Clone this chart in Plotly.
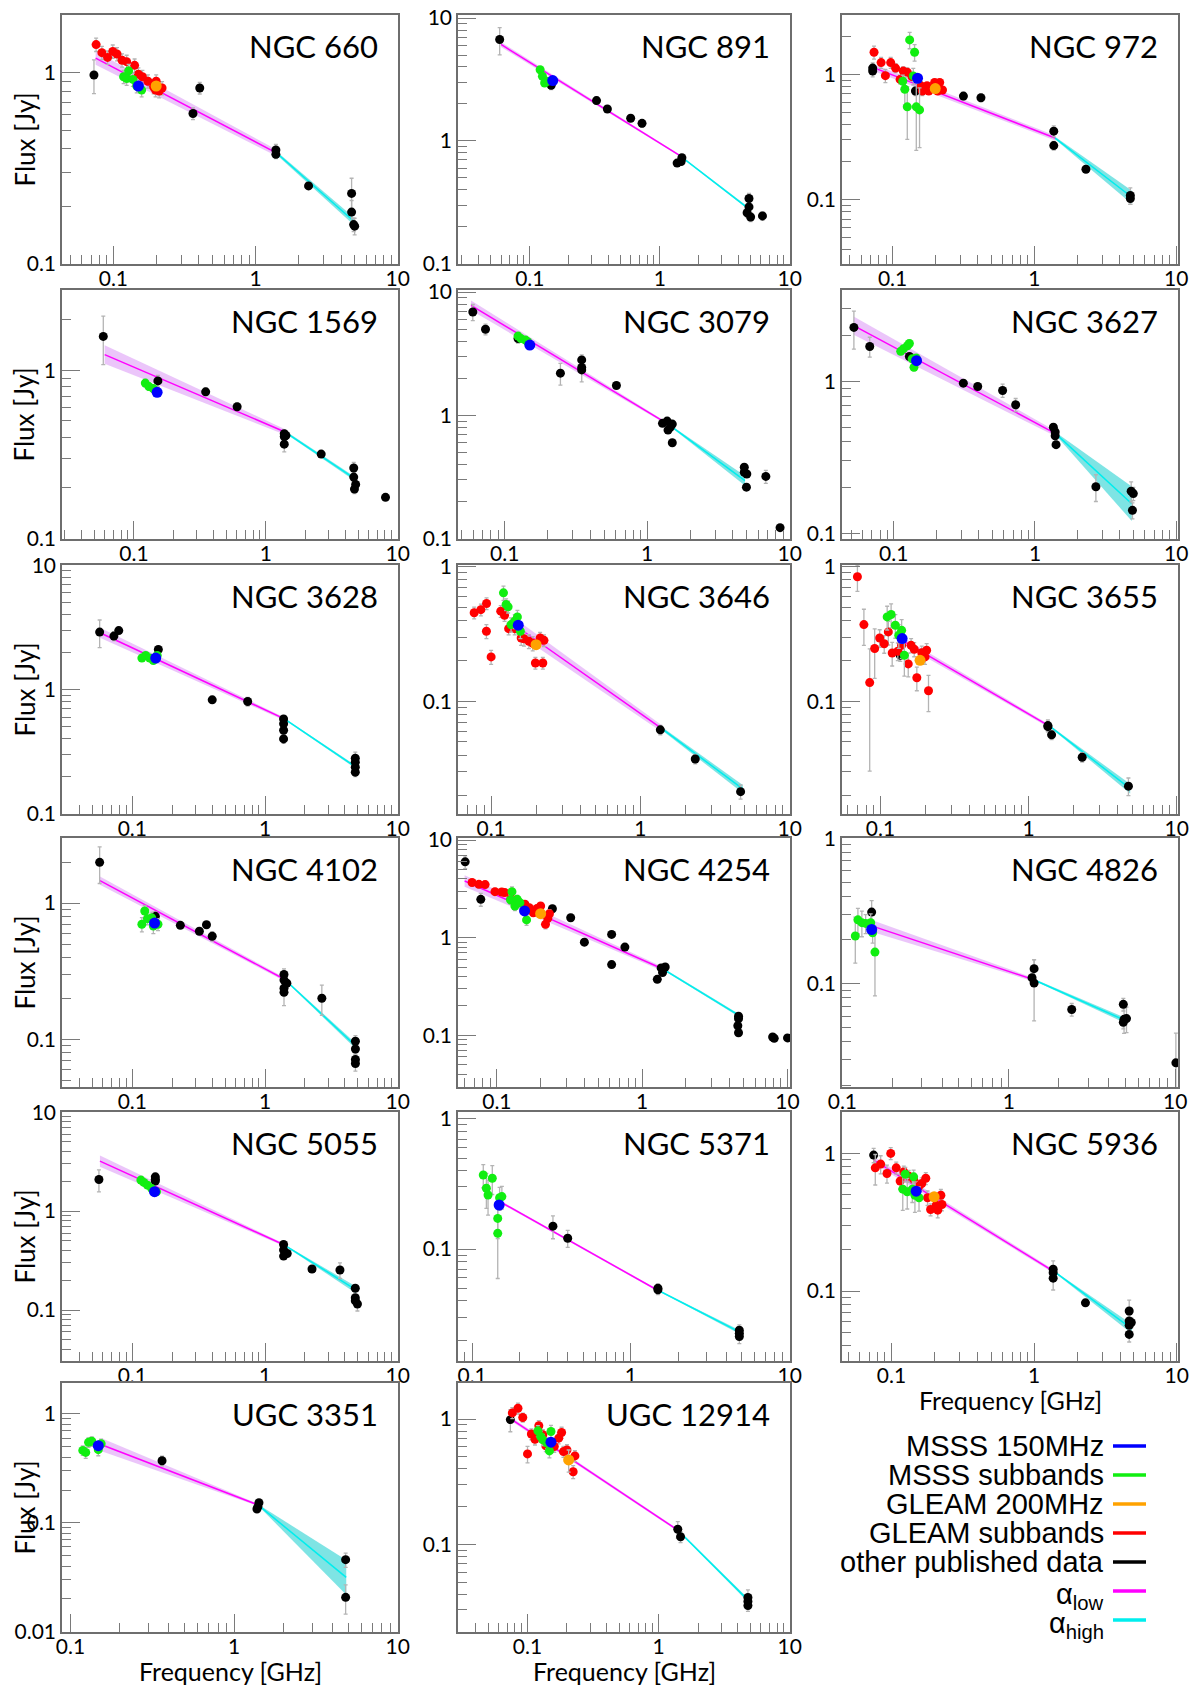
import math
import plotly.graph_objects as go

# ---------------- data: (frequency GHz, flux Jy, relative error) ----------------
# NGC 660
N660_other = [(0.073,0.97,0.2),(0.363,0.61,0.07),(0.405,0.83,0.07),(1.39,0.393,0.07),(1.39,0.373,0.05),
              (2.36,0.255,0.04),(4.74,0.233,0.2),(4.74,0.186,0.15),(4.9,0.16,0.08),(4.98,0.157,0.1)]
N660_gleam_sub = [(0.0756,1.40,0.08),(0.083,1.27,0.08),(0.091,1.20,0.08),(0.099,1.29,0.08),(0.106,1.25,0.08),
                  (0.115,1.16,0.08),(0.124,1.14,0.08),(0.141,1.09,0.08),(0.150,0.98,0.08),(0.16,0.95,0.08),
                  (0.175,0.90,0.08),(0.192,0.84,0.08),(0.2,0.90,0.08),(0.198,0.81,0.08),(0.21,0.80,0.08),(0.22,0.83,0.08)]
N660_msss_sub = [(0.128,1.02,0.08),(0.118,0.95,0.08),(0.124,0.93,0.08),(0.137,0.92,0.08),(0.146,0.85,0.08),(0.158,0.81,0.08)]
N660_msss150 = [(0.15,0.85,0.05)]
N660_gleam200 = [(0.2,0.85,0.05)]
N660_fit = [0.075, 1.19, 0.38, 0.168]          # start freq, flux at start, flux at 1.4 GHz, flux at 4.85 GHz
N660_band = [0.035, 0.017, 0.02]               # half-width (dex) at start, 1.4 GHz, 4.85 GHz

# NGC 891
N891_other = [(0.0586,6.7,0.25),(0.146,2.84,0.08),(0.326,2.13,0.07),(0.395,1.82,0.05),(0.597,1.53,0.05),
              (0.73,1.39,0.07),(1.36,0.66,0.05),(1.48,0.73,0.05),(1.46,0.68,0.05),(4.86,0.34,0.1),
              (4.86,0.29,0.08),(4.7,0.26,0.08),(5.0,0.24,0.08),(6.17,0.245,0.08)]
N891_gleam_sub = []
N891_msss_sub = [(0.12,3.8,0.05),(0.125,3.36,0.05),(0.137,3.06,0.05),(0.13,2.96,0.05)]
N891_msss150 = [(0.15,3.1,0.05)]
N891_gleam200 = []
N891_fit = [0.06, 6.1, 0.77, 0.28]
N891_band = [0.02, 0.008, 0.01]

# NGC 972
N972_other = [(0.0724,1.12,0.1),(0.0724,1.06,0.1),(0.145,0.736,0.08),(0.316,0.67,0.07),(0.42,0.65,0.07),
              (1.37,0.352,0.1),(1.37,0.27,0.08),(2.31,0.175,0.05),(4.75,0.108,0.15),(4.75,0.102,0.1)]
N972_gleam_sub = [(0.074,1.5,0.12),(0.083,1.24,0.1),(0.089,0.975,0.12),(0.097,1.24,0.1),(0.105,1.12,0.08),
                  (0.119,1.06,0.08),(0.127,1.04,0.08),(0.113,0.91,0.08),(0.137,0.96,0.08),(0.158,0.81,0.08),
                  (0.17,0.77,0.08),(0.162,0.736,0.08),(0.18,0.736,0.06),(0.198,0.86,0.06),(0.215,0.86,0.06),
                  (0.225,0.75,0.06),(0.208,0.736,0.06),(0.175,0.81,0.06)]
N972_msss_sub = [(0.132,1.88,0.15),(0.143,1.5,0.15),(0.14,0.97,0.15),(0.118,0.88,0.12),(0.122,0.76,0.25),
                 (0.127,0.55,0.45),(0.147,0.55,0.55),(0.155,0.52,0.5)]
N972_msss150 = [(0.15,0.93,0.05)]
N972_gleam200 = [(0.2,0.77,0.05)]
N972_fit = [0.075, 1.12, 0.31, 0.105]
N972_band = [0.027, 0.02, 0.053]

# NGC 1569
N1569_other = [(0.0586,1.59,0.32),(0.152,0.865,0.08),(0.35,0.745,0.05),(0.606,0.607,0.05),(1.38,0.42,0.05),
               (1.38,0.404,0.05),(1.42,0.41,0.05),(1.38,0.364,0.1),(2.63,0.318,0.04),(4.64,0.263,0.08),
               (4.64,0.232,0.06),(4.8,0.21,0.06),(4.7,0.197,0.06),(8.08,0.176,0.04)]
N1569_gleam_sub = []
N1569_msss_sub = [(0.122,0.84,0.05),(0.13,0.80,0.05),(0.14,0.78,0.05),(0.149,0.745,0.05)]
N1569_msss150 = [(0.15,0.74,0.05)]
N1569_gleam200 = []
N1569_fit = [0.06, 1.24, 0.43, 0.224]
N1569_band = [0.055, 0.016, 0.012]

# NGC 3079
N3079_other = [(0.0597,6.9,0.15),(0.0733,5.0,0.1),(0.124,4.2,0.08),(0.246,2.2,0.2),(0.347,2.82,0.1),
               (0.347,2.45,0.1),(0.347,2.34,0.2),(0.608,1.75,0.05),(1.28,0.862,0.05),(1.38,0.90,0.05),
               (1.45,0.80,0.05),(1.5,0.85,0.05),(1.4,0.76,0.05),(1.5,0.60,0.05),(4.8,0.38,0.06),
               (4.8,0.346,0.06),(5.0,0.335,0.06),(4.97,0.262,0.06),(6.8,0.32,0.12),(8.56,0.123,0.05)]
N3079_gleam_sub = []
N3079_msss_sub = [(0.124,4.4,0.05),(0.13,4.2,0.05),(0.14,4.08,0.05),(0.145,3.96,0.05)]
N3079_msss150 = [(0.15,3.72,0.05)]
N3079_gleam200 = []
N3079_fit = [0.058, 7.8, 0.85, 0.296]
N3079_band = [0.04, 0.01, 0.04]

# NGC 3627
N3627_other = [(0.0522,2.27,0.28),(0.0676,1.70,0.15),(0.129,1.46,0.05),(0.311,0.975,0.05),(0.393,0.927,0.05),
               (0.59,0.873,0.1),(0.73,0.703,0.1),(1.35,0.50,0.05),(1.39,0.465,0.05),(1.39,0.44,0.05),
               (1.41,0.384,0.05),(2.7,0.203,0.2),(4.8,0.19,0.15),(4.97,0.183,0.1),(4.9,0.142,0.12)]
N3627_gleam_sub = []
N3627_msss_sub = [(0.112,1.58,0.05),(0.117,1.64,0.05),(0.125,1.72,0.05),(0.129,1.78,0.05),(0.135,1.41,0.05),
                  (0.144,1.43,0.05),(0.139,1.24,0.05)]
N3627_msss150 = [(0.145,1.37,0.05)]
N3627_gleam200 = []
N3627_fit = [0.052, 2.33, 0.454, 0.157]
N3627_band = [0.06, 0.018, 0.114]

# NGC 3628
N3628_other = [(0.0567,2.9,0.25),(0.0726,2.69,0.08),(0.079,2.98,0.05),(0.157,2.1,0.05),(0.4,0.826,0.04),
               (0.74,0.80,0.08),(1.38,0.58,0.04),(1.38,0.53,0.04),(1.38,0.47,0.04),(1.38,0.40,0.08),
               (4.79,0.28,0.12),(4.79,0.26,0.06),(4.79,0.237,0.06),(4.79,0.216,0.08)]
N3628_gleam_sub = []
N3628_msss_sub = [(0.118,1.79,0.05),(0.126,1.88,0.05),(0.135,1.79,0.05),(0.144,1.71,0.05),(0.154,1.88,0.05)]
N3628_msss150 = [(0.15,1.79,0.05)]
N3628_gleam200 = []
N3628_fit = [0.057, 2.86, 0.58, 0.237]
N3628_band = [0.04, 0.012, 0.012]

# NGC 3646
N3646_other = [(1.36,0.0615,0.08),(2.33,0.0374,0.08),(4.69,0.0214,0.12)]
N3646_gleam_sub = [(0.077,0.455,0.1),(0.0854,0.48,0.1),(0.0932,0.533,0.1),(0.093,0.332,0.12),(0.1,0.214,0.12),
                   (0.116,0.468,0.1),(0.123,0.436,0.1),(0.131,0.347,0.1),(0.144,0.347,0.1),(0.159,0.296,0.12),
                   (0.166,0.292,0.12),(0.179,0.28,0.12),(0.19,0.27,0.12),(0.213,0.296,0.1),(0.226,0.284,0.1),
                   (0.198,0.193,0.1),(0.222,0.193,0.1)]
N3646_msss_sub = [(0.121,0.64,0.12),(0.126,0.524,0.1),(0.13,0.504,0.1),(0.136,0.372,0.12),(0.144,0.394,0.12),
                  (0.15,0.424,0.12),(0.157,0.332,0.12)]
N3646_msss150 = [(0.152,0.368,0.05)]
N3646_gleam200 = [(0.2,0.264,0.06)]
N3646_fit = [0.15, 0.357, 0.0626, 0.0224]
N3646_band = [0.05, 0.025, 0.03]

# NGC 3655
N3655_other = [(0.136,0.22,0.1),(1.35,0.0662,0.1),(1.35,0.065,0.08),(1.43,0.0565,0.08),(2.3,0.0385,0.08),(4.72,0.0235,0.15)]
N3655_gleam_sub = [(0.0699,0.842,0.22),(0.0773,0.372,0.3),(0.0846,0.138,0.78),(0.0914,0.247,0.4),(0.0988,0.296,0.15),
                   (0.106,0.268,0.15),(0.113,0.328,0.2),(0.12,0.229,0.2),(0.131,0.236,0.15),(0.139,0.261,0.2),
                   (0.154,0.19,0.2),(0.161,0.261,0.12),(0.169,0.244,0.12),(0.176,0.15,0.2),(0.19,0.23,0.12),
                   (0.205,0.24,0.12),(0.211,0.12,0.3),(0.2,0.214,0.12)]
N3655_msss_sub = [(0.111,0.424,0.2),(0.118,0.442,0.2),(0.126,0.368,0.2),(0.139,0.337,0.2),(0.133,0.31,0.2),(0.145,0.22,0.3)]
N3655_msss150 = [(0.14,0.293,0.05)]
N3655_gleam200 = [(0.185,0.202,0.06)]
N3655_fit = [0.14, 0.284, 0.065, 0.0225]
N3655_band = [0.025, 0.012, 0.035]

# NGC 4102
N4102_other = [(0.0567,1.99,0.3),(0.149,0.80,0.08),(0.23,0.688,0.05),(0.32,0.622,0.05),(0.362,0.695,0.05),
               (0.4,0.572,0.08),(1.39,0.30,0.1),(1.39,0.273,0.05),(1.46,0.259,0.05),(1.39,0.238,0.05),
               (1.39,0.222,0.2),(2.68,0.201,0.25),(4.8,0.0973,0.1),(4.8,0.0854,0.08),(4.8,0.0716,0.08),(4.8,0.0669,0.12)]
N4102_gleam_sub = []
N4102_msss_sub = [(0.118,0.70,0.12),(0.124,0.875,0.1),(0.13,0.77,0.1),(0.14,0.78,0.1),(0.144,0.68,0.12),(0.156,0.70,0.1)]
N4102_msss150 = [(0.147,0.715,0.05)]
N4102_gleam200 = []
N4102_fit = [0.057, 1.46, 0.277, 0.0895]
N4102_band = [0.03, 0.012, 0.02]

# NGC 4254
N4254_other = [(0.0605,5.98,0.15),(0.0775,2.47,0.15),(0.241,1.98,0.08),(0.322,1.6,0.08),(0.4,0.9,0.08),
               (0.616,1.08,0.05),(0.616,0.53,0.05),(0.76,0.80,0.05),(1.27,0.374,0.05),(1.35,0.49,0.05),
               (1.44,0.50,0.05),(1.38,0.44,0.05),(4.6,0.157,0.06),(4.6,0.148,0.06),(4.55,0.125,0.08),
               (4.6,0.106,0.08),(7.9,0.096,0.05),(8.1,0.093,0.05),(10.0,0.094,0.05)]
N4254_gleam_sub = [(0.0675,3.67,0.08),(0.0752,3.52,0.08),(0.083,3.5,0.08),(0.097,2.96,0.08),(0.108,2.94,0.08),
                   (0.113,2.9,0.08),(0.125,2.53,0.08),(0.14,2.28,0.08),(0.156,2.2,0.08),(0.167,2.03,0.08),
                   (0.178,1.8,0.08),(0.189,1.99,0.08),(0.2,2.11,0.08),(0.216,1.37,0.1),(0.224,1.58,0.1),(0.23,1.76,0.1)]
N4254_msss_sub = [(0.127,2.96,0.12),(0.124,2.44,0.1),(0.138,2.47,0.1),(0.133,2.11,0.1),(0.144,2.28,0.1),(0.16,1.52,0.12)]
N4254_msss150 = [(0.155,1.88,0.05)]
N4254_gleam200 = [(0.2,1.76,0.05)]
N4254_fit = [0.06, 3.81, 0.474, 0.153]
N4254_band = [0.058, 0.02, 0.014]

# NGC 4826
N4826_other = [(0.15,0.311,0.2),(1.42,0.127,0.15),(1.38,0.11,0.1),(1.42,0.101,0.45),(2.39,0.0665,0.1),
               (4.88,0.0722,0.1),(4.93,0.0569,0.2),(5.1,0.0576,0.2),(4.88,0.0543,0.1),(10.1,0.0286,0.6)]
N4826_gleam_sub = []
N4826_msss_sub = [(0.1196,0.213,0.35),(0.124,0.275,0.2),(0.131,0.263,0.2),(0.138,0.26,0.15),(0.148,0.263,0.15),
                  (0.152,0.224,0.15),(0.157,0.165,0.5)]
N4826_msss150 = [(0.15,0.236,0.05)]
N4826_gleam200 = []
N4826_fit = [0.15, 0.25, 0.107, 0.0569]
N4826_band = [0.04, 0.012, 0.018]

# NGC 5055
N5055_other = [(0.056,2.09,0.25),(0.149,2.22,0.05),(0.149,2.1,0.05),(0.149,2.01,0.05),(1.38,0.46,0.05),
               (1.38,0.404,0.05),(1.38,0.351,0.05),(1.47,0.373,0.05),(2.26,0.26,0.05),(3.67,0.254,0.18),
               (4.79,0.166,0.06),(4.79,0.133,0.06),(4.79,0.124,0.06),(4.97,0.115,0.15)]
N5055_gleam_sub = []
N5055_msss_sub = [(0.116,2.06,0.05),(0.122,1.95,0.05),(0.13,1.83,0.05),(0.14,1.69,0.05),(0.152,1.57,0.05)]
N5055_msss150 = [(0.147,1.57,0.05)]
N5055_gleam200 = []
N5055_fit = [0.057, 3.2, 0.454, 0.16]
N5055_band = [0.057, 0.013, 0.034]

# NGC 5371
N5371_other = [(0.323,0.15,0.2),(0.4,0.121,0.15),(1.48,0.05,0.08),(1.48,0.0486,0.08),(4.82,0.0238,0.1),
               (4.82,0.0225,0.1),(4.82,0.0213,0.12)]
N5371_gleam_sub = []
N5371_msss_sub = [(0.1176,0.371,0.2),(0.123,0.293,0.3),(0.126,0.26,0.3),(0.134,0.35,0.25),(0.145,0.132,0.55),
                  (0.145,0.172,0.3),(0.149,0.248,0.2),(0.154,0.253,0.2)]
N5371_msss150 = [(0.148,0.218,0.05)]
N5371_gleam200 = []
N5371_fit = [0.15, 0.231, 0.05, 0.023]
N5371_band = [0.01, 0.008, 0.015]

# NGC 5936
N5936_other = [(0.075,0.972,0.12),(1.36,0.144,0.15),(1.36,0.136,0.1),(1.36,0.124,0.18),(2.29,0.082,0.05),
               (4.64,0.0716,0.2),(4.64,0.0605,0.1),(4.8,0.059,0.08),(4.64,0.0563,0.08),(4.64,0.0484,0.12)]
N5936_gleam_sub = [(0.077,0.786,0.25),(0.084,0.836,0.15),(0.093,0.715,0.15),(0.0988,1.0,0.1),(0.108,0.786,0.1),
                   (0.115,0.629,0.12),(0.122,0.735,0.1),(0.132,0.684,0.1),(0.143,0.65,0.1),(0.156,0.58,0.1),
                   (0.163,0.604,0.1),(0.174,0.66,0.1),(0.179,0.476,0.12),(0.188,0.391,0.1),(0.206,0.42,0.1),
                   (0.211,0.387,0.12),(0.222,0.497,0.1),(0.226,0.425,0.1)]
N5936_msss_sub = [(0.125,0.707,0.12),(0.143,0.676,0.12),(0.12,0.55,0.3),(0.129,0.526,0.25),(0.14,0.55,0.2),
                  (0.146,0.497,0.25),(0.156,0.476,0.2)]
N5936_msss150 = [(0.149,0.532,0.05)]
N5936_gleam200 = [(0.199,0.484,0.06)]
N5936_fit = [0.075, 0.894, 0.137, 0.053]
N5936_band = [0.025, 0.012, 0.035]

# UGC 3351
U3351_other = [(0.363,0.371,0.1),(1.42,0.153,0.05),(1.4,0.141,0.05),(1.38,0.134,0.05),(4.81,0.0459,0.15),(4.81,0.0207,0.3)]
U3351_gleam_sub = []
U3351_msss_sub = [(0.119,0.462,0.1),(0.124,0.443,0.12),(0.129,0.548,0.1),(0.135,0.56,0.1),(0.148,0.469,0.12),(0.154,0.532,0.1)]
U3351_msss150 = [(0.148,0.51,0.05)]
U3351_gleam200 = []
U3351_fit = [0.155, 0.52, 0.146, 0.0316]
U3351_band = [0.06, 0.01, 0.16]

# UGC 12914
U12914_other = [(0.074,0.99,0.2),(1.4,0.132,0.15),(1.47,0.115,0.1),(4.8,0.0377,0.15),(4.8,0.0351,0.1),(4.8,0.0325,0.1)]
U12914_gleam_sub = [(0.0766,1.12,0.1),(0.0846,1.22,0.1),(0.092,1.03,0.08),(0.1,0.527,0.15),(0.107,0.76,0.1),
                    (0.114,0.69,0.1),(0.122,0.884,0.1),(0.131,0.749,0.1),(0.138,0.611,0.1),(0.16,0.604,0.1),
                    (0.173,0.704,0.1),(0.182,0.782,0.1),(0.188,0.55,0.1),(0.2,0.567,0.1),(0.223,0.38,0.12),(0.23,0.508,0.1)]
U12914_msss_sub = [(0.12,0.806,0.1),(0.126,0.726,0.1),(0.131,0.683,0.1),(0.141,0.642,0.1),(0.151,0.796,0.12),(0.147,0.557,0.12)]
U12914_msss150 = [(0.151,0.654,0.05)]
U12914_gleam200 = [(0.206,0.472,0.2)]
U12914_fit = [0.075, 1.0, 0.13, 0.0356]
U12914_band = [0.015, 0.01, 0.015]

NAMES = ["NGC 660", "NGC 891", "NGC 972", "NGC 1569", "NGC 3079", "NGC 3627", "NGC 3628", "NGC 3646",
         "NGC 3655", "NGC 4102", "NGC 4254", "NGC 4826", "NGC 5055", "NGC 5371", "NGC 5936", "UGC 3351", "UGC 12914"]
X_RANGES = [(0.0435,10.05),(0.028,10.05),(0.044,10.3),(0.0285,10.05),(0.047,10.05),(0.043,10.3),
            (0.0295,10.05),(0.06,10.05),(0.055,10.2),(0.0295,10.05),(0.054,10.4),(0.0995,10.4),
            (0.0295,10.05),(0.0815,10.05),(0.045,10.2),(0.0888,10.05),(0.0295,10.05)]
Y_RANGES = [(0.0995,2.0),(0.0995,10.6),(0.0307,2.97),(0.0995,3.0),(0.0995,10.4),(0.092,4.0),
            (0.0995,10.05),(0.0146,1.03),(0.0146,1.03),(0.045,3.0),(0.0295,10.5),(0.0195,1.005),
            (0.0305,10.05),(0.0138,1.13),(0.031,2.0),(0.00995,1.92),(0.02,1.94)]
DATA = [
    (N660_other, N660_gleam_sub, N660_msss_sub, N660_gleam200, N660_msss150, N660_fit, N660_band),
    (N891_other, N891_gleam_sub, N891_msss_sub, N891_gleam200, N891_msss150, N891_fit, N891_band),
    (N972_other, N972_gleam_sub, N972_msss_sub, N972_gleam200, N972_msss150, N972_fit, N972_band),
    (N1569_other, N1569_gleam_sub, N1569_msss_sub, N1569_gleam200, N1569_msss150, N1569_fit, N1569_band),
    (N3079_other, N3079_gleam_sub, N3079_msss_sub, N3079_gleam200, N3079_msss150, N3079_fit, N3079_band),
    (N3627_other, N3627_gleam_sub, N3627_msss_sub, N3627_gleam200, N3627_msss150, N3627_fit, N3627_band),
    (N3628_other, N3628_gleam_sub, N3628_msss_sub, N3628_gleam200, N3628_msss150, N3628_fit, N3628_band),
    (N3646_other, N3646_gleam_sub, N3646_msss_sub, N3646_gleam200, N3646_msss150, N3646_fit, N3646_band),
    (N3655_other, N3655_gleam_sub, N3655_msss_sub, N3655_gleam200, N3655_msss150, N3655_fit, N3655_band),
    (N4102_other, N4102_gleam_sub, N4102_msss_sub, N4102_gleam200, N4102_msss150, N4102_fit, N4102_band),
    (N4254_other, N4254_gleam_sub, N4254_msss_sub, N4254_gleam200, N4254_msss150, N4254_fit, N4254_band),
    (N4826_other, N4826_gleam_sub, N4826_msss_sub, N4826_gleam200, N4826_msss150, N4826_fit, N4826_band),
    (N5055_other, N5055_gleam_sub, N5055_msss_sub, N5055_gleam200, N5055_msss150, N5055_fit, N5055_band),
    (N5371_other, N5371_gleam_sub, N5371_msss_sub, N5371_gleam200, N5371_msss150, N5371_fit, N5371_band),
    (N5936_other, N5936_gleam_sub, N5936_msss_sub, N5936_gleam200, N5936_msss150, N5936_fit, N5936_band),
    (U3351_other, U3351_gleam_sub, U3351_msss_sub, U3351_gleam200, U3351_msss150, U3351_fit, U3351_band),
    (U12914_other, U12914_gleam_sub, U12914_msss_sub, U12914_gleam200, U12914_msss150, U12914_fit, U12914_band),
]
LEGEND_LABELS = ["MSSS 150MHz", "MSSS subbands", "GLEAM 200MHz", "GLEAM subbands",
                 "other published data", "α<sub>low</sub>", "α<sub>high</sub>"]
F_BREAK = 1.4
F_END = 4.85

# ---------------- styling / layout ----------------
W, H = 1200, 1688
FONT = "Lato"
C_BLACK, C_RED, C_GREEN, C_ORANGE, C_BLUE = "#000000", "#ff0000", "#11ee11", "#ffa200", "#0000ff"
C_MAG, C_CYAN = "#ff00ff", "#00eeee"
C_MAGBAND, C_CYANBAND = "rgba(215,140,245,0.5)", "rgba(40,210,210,0.6)"
LEGEND_COLORS = [C_BLUE, C_GREEN, C_ORANGE, C_RED, C_BLACK, C_MAG, C_CYAN]
COLS = [(62, 398), (458, 790), (842, 1178)]
ROW_TOPS = [15, 290, 565, 838, 1112, 1383]
FRAME_H = 249

def px(x):
    return x / W

def py(y):
    return 1 - y / H

def decade_ticks(lo, hi):
    vals, txt = [], []
    for k in range(-3, 3):
        v = 10.0 ** k
        if lo * 0.999 <= v <= hi * 1.001:
            vals.append(v)
            txt.append(("%g" % v))
    return vals, txt

def minor_ticks(lo, hi):
    vals = []
    for k in range(-3, 3):
        for m in range(2, 10):
            v = m * 10.0 ** k
            if lo <= v <= hi:
                vals.append(v)
    return vals

fig = go.Figure()
layout = dict(width=W, height=H, margin=dict(l=0, r=0, t=0, b=0, pad=0, autoexpand=False),
              paper_bgcolor="white", plot_bgcolor="white", showlegend=False,
              annotations=[], shapes=[])

def add_points(pts, color, size, xa, ya):
    if not pts:
        return
    xs = [p[0] for p in pts]
    ys = [p[1] for p in pts]
    es = [p[1] * p[2] for p in pts]
    fig.add_trace(go.Scatter(
        x=xs, y=ys, mode="markers", xaxis=xa, yaxis=ya,
        marker=dict(color=color, size=size, line=dict(width=0)),
        error_y=dict(type="data", symmetric=True, array=es, color="#b4b4b4", thickness=1.3, width=2),
        hoverinfo="skip"))

for i, name in enumerate(NAMES):
    r, c = divmod(i, 3)
    n = i + 1
    xa = "x" if n == 1 else "x%d" % n
    ya = "y" if n == 1 else "y%d" % n
    x0, x1 = COLS[c]
    top = ROW_TOPS[r]
    bot = top + FRAME_H
    other, gsub, msub, g200, m150, fit, band = DATA[i]
    f0, s0, s14, s485 = fit
    d0, d1, d2 = band

    # fit bands
    fig.add_trace(go.Scatter(x=[f0, F_BREAK, F_BREAK, f0, f0],
                             y=[s0 * 10 ** d0, s14 * 10 ** d1, s14 / 10 ** d1, s0 / 10 ** d0, s0 * 10 ** d0],
                             fill="toself", fillcolor=C_MAGBAND, line=dict(width=0), mode="lines",
                             xaxis=xa, yaxis=ya, hoverinfo="skip"))
    fig.add_trace(go.Scatter(x=[F_BREAK, F_END, F_END, F_BREAK, F_BREAK],
                             y=[s14 * 10 ** (d1 * 0.5), s485 * 10 ** d2, s485 / 10 ** d2, s14 / 10 ** (d1 * 0.5), s14 * 10 ** (d1 * 0.5)],
                             fill="toself", fillcolor=C_CYANBAND, line=dict(width=0), mode="lines",
                             xaxis=xa, yaxis=ya, hoverinfo="skip"))
    fig.add_trace(go.Scatter(x=[f0, F_BREAK], y=[s0, s14], mode="lines", line=dict(color=C_MAG, width=1.5),
                             xaxis=xa, yaxis=ya, hoverinfo="skip"))
    fig.add_trace(go.Scatter(x=[F_BREAK, F_END], y=[s14, s485], mode="lines", line=dict(color=C_CYAN, width=1.5),
                             xaxis=xa, yaxis=ya, hoverinfo="skip"))

    add_points(other, C_BLACK, 9, xa, ya)
    add_points(gsub, C_RED, 9, xa, ya)
    add_points(msub, C_GREEN, 9, xa, ya)
    add_points(g200, C_ORANGE, 11, xa, ya)
    add_points(m150, C_BLUE, 11, xa, ya)

    xr, yr = X_RANGES[i], Y_RANGES[i]
    xtv, xtt = decade_ticks(*xr)
    ytv, ytt = decade_ticks(*yr)
    common = dict(type="log", showline=True, linecolor="#6e6e6e", linewidth=1.5, mirror=True,
                  ticks="inside", ticklen=18, tickwidth=1.2, tickcolor="#7a7a7a",
                  tickfont=dict(family=FONT, size=21, color="black"), automargin=False,
                  showgrid=False, zeroline=False, tickmode="array")
    layout["xaxis" + ("" if n == 1 else str(n))] = dict(
        common, range=[math.log10(xr[0]), math.log10(xr[1])], domain=[px(x0), px(x1)], anchor=ya,
        tickvals=xtv, ticktext=xtt, ticklabelstandoff=-5,
        minor=dict(tickmode="array", tickvals=minor_ticks(*xr), ticks="inside", ticklen=9,
                   tickwidth=1, tickcolor="#7a7a7a", showgrid=False))
    layout["yaxis" + ("" if n == 1 else str(n))] = dict(
        common, range=[math.log10(yr[0]), math.log10(yr[1])], domain=[py(bot), py(top)], anchor=xa,
        tickvals=ytv, ticktext=ytt,
        minor=dict(tickmode="array", tickvals=minor_ticks(*yr), ticks="inside", ticklen=9,
                   tickwidth=1, tickcolor="#7a7a7a", showgrid=False))

    # panel name
    layout["annotations"].append(dict(text=name, xref="paper", yref="paper", x=px(x1 - 18), y=py(top + 10),
                                      xanchor="right", yanchor="top", showarrow=False,
                                      font=dict(family=FONT, size=31, color="black")))
    if c == 0:
        layout["annotations"].append(dict(text="Flux [Jy]", xref="paper", yref="paper", x=px(24),
                                          y=py((top + bot) / 2), textangle=-90, xanchor="center", yanchor="middle",
                                          showarrow=False, font=dict(family=FONT, size=26, color="black")))
    if r == 5 or (r == 4 and c == 2):
        layout["annotations"].append(dict(text="Frequency [GHz]", xref="paper", yref="paper", x=px((x0 + x1) / 2),
                                          y=py(bot + 39), xanchor="center", yanchor="middle", showarrow=False,
                                          font=dict(family=FONT, size=25, color="black")))

# legend (drawn manually, right aligned text with coloured line)
leg_y = [1446, 1475, 1504, 1533, 1562, 1591, 1620]
for lab, col, yy in zip(LEGEND_LABELS, LEGEND_COLORS, leg_y):
    dy = 5 if "<sub>" in lab else 0
    layout["annotations"].append(dict(text=lab, xref="paper", yref="paper", x=px(1106), y=py(yy + dy),
                                      xanchor="right", yanchor="middle", showarrow=False,
                                      font=dict(family="Liberation Sans", size=29, color="black")))
    layout["shapes"].append(dict(type="line", xref="paper", yref="paper", x0=px(1113), x1=px(1146),
                                 y0=py(yy), y1=py(yy), line=dict(color=col, width=3.5)))

fig.update_layout(**layout)
fig.write_html("out.html", config={"displayModeBar": False},
               post_script="document.body.style.margin='0px';document.body.style.overflow='hidden';")
